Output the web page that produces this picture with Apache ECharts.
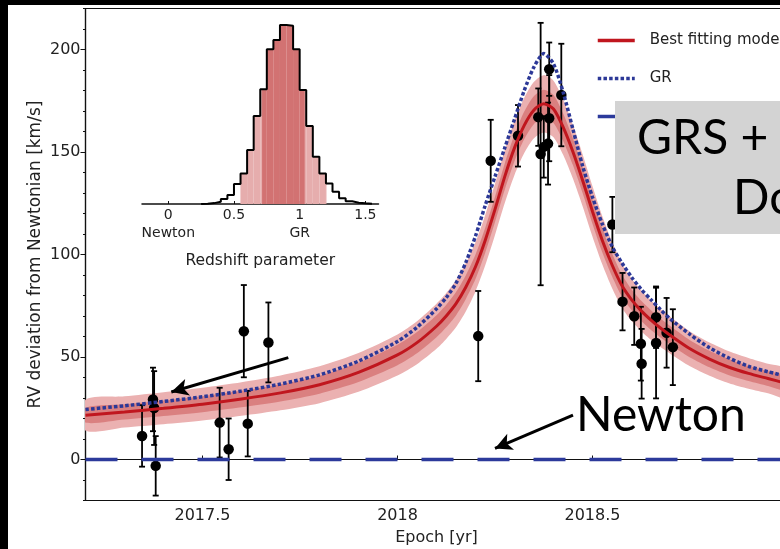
<!DOCTYPE html>
<html><head><meta charset="utf-8">
<script src="https://cdn.jsdelivr.net/npm/echarts@6/dist/echarts.min.js"></script>
<style>html,body{margin:0;padding:0;background:#fff}#c{width:780px;height:549px}</style>
</head><body><div id="c"></div>
<script>
// ---- model curves (epoch in yr, RV deviation in km/s) ----
const curveEpochs = [2017.2,2017.3,2017.4,2017.5,2017.6,2017.7,2017.8,2017.9,2018.0,2018.05,2018.1,2018.125,2018.15,2018.175,2018.2,2018.225,2018.25,2018.275,2018.3,2018.325,2018.35,2018.375,2018.4,2018.425,2018.45,2018.475,2018.5,2018.525,2018.55,2018.575,2018.6,2018.625,2018.65,2018.675,2018.7,2018.75,2018.8,2018.85,2018.9,2018.95,2019.0];
const bestFit   = [21.6,23.2,25.0,27.0,29.5,32.5,36.5,42.5,51,57,65,70,76,84,94,107,122,138,152,163,170.5,173.5,171,162,150,136,121,107,95,85,78,72.5,68,64,60.5,54,49,45,42,39.5,37];
const grCurve   = [24.4,26.2,28.3,30.6,33.4,36.8,41.3,48,57.6,64.5,73.5,79,86,96,109,124,138,152,166,180,191.5,198,193,179,161,143,128,115,104,96,89,83,78,73,68.5,61,54.5,49.5,45.5,42.8,40.5];
const outerHalf = [7.5,7.6,7.8,8,8.2,8.5,9,9.5,10,10.5,11,11.2,11.5,11.8,12,12.3,12.5,12.9,13.2,13.5,13.8,14,13.8,13.5,13.1,12.7,12.3,11.8,11.3,10.8,10.3,9.9,9.6,9.3,9,8.5,8.1,7.8,7.5,7.2,7];
const innerHalf = [3.6,3.7,3.8,3.9,4,4.2,4.4,4.7,5,5.2,5.4,5.5,5.7,5.8,6,6.1,6.2,6.4,6.5,6.7,6.8,6.9,6.8,6.7,6.5,6.3,6.1,5.9,5.6,5.4,5.1,4.9,4.8,4.6,4.5,4.2,4,3.9,3.7,3.6,3.5];
const newtonLevel = 0;

// ---- observations ----
const obsEpoch = [2017.345,2017.373,2017.376,2017.380,2017.544,2017.567,2017.606,2017.616,2017.669,2018.207,2018.239,2018.309,2018.361,2018.367,2018.375,2018.386,2018.389,2018.389,2018.420,2018.551,2018.577,2018.607,2018.624,2018.626,2018.663,2018.663,2018.690,2018.706];
const obsRV    = [11.5,29.3,25.1,-3.1,18,5,62.6,17.5,57.1,60.2,145.7,157.9,167,149,152.5,154.1,166.5,190.4,177.8,114.6,77,69.9,56.5,46.7,69.4,56.8,61.8,54.8];
const obsErr   = [15,15.5,18,14.5,17,15,22.5,16,19.5,22,20,15,14,64,15,20,21,13,25,13.5,14,14,18,17,15,27,17,18.5];

// ---- axes ----
const xRange = [2017.2, 2019.0];
const yRange = [-20, 220];
const xTicks = [2017.5, 2018, 2018.5];
const yTicks = [0, 50, 100, 150, 200];

// ---- inset histogram ----
const histBinLeft = [0.25,0.30,0.35,0.40,0.45,0.50,0.55,0.60,0.65,0.70,0.75,0.80,0.85,0.90,0.95,1.00,1.05,1.10,1.15,1.20,1.25,1.30,1.35,1.40,1.45,1.50];
const histCounts  = [2,5,13,28,50,112,171,302,492,641,864,916,1000,996,864,637,436,264,171,115,69,32,15,7,4,2];
const histBinWidth = 0.05;
const histRange = [-0.2, 1.6];
const histTicks = [0, 0.5, 1, 1.5];
const histTickNames = {0: 'Newton', 1: 'GR'};
const shadeWide = [0.548, 1.204];
const shadeNarrow = [0.714, 1.038];

// ---- annotations (data coords) ----
const arrowGR = [[2017.72, 49.7], [2017.42, 32.9]];
const arrowNewton = [[2018.45, 21.6], [2018.25, 5.4]];

const FONT = 'DejaVu Sans';
const pair = (xs, ys) => xs.map((x, i) => [x, ys[i]]);

const histOutline = [[histBinLeft[0], 0]];
histBinLeft.forEach((l, i) => histOutline.push([l, histCounts[i]]));
histOutline.push([histBinLeft[histBinLeft.length - 1] + histBinWidth, histCounts[histCounts.length - 1]]);
histOutline.push([histBinLeft[histBinLeft.length - 1] + histBinWidth, 0]);

const TRANSPARENT = 'rgba(0,0,0,0)';
const chart = echarts.init(document.getElementById('c'), null, {renderer: 'canvas'});
chart.setOption({
  animation: false,
  backgroundColor: '#fff',
  textStyle: {fontFamily: FONT},
  grid: [
    {left: 85.5, top: 8.5, width: 702, height: 492, show: true, borderColor: '#111', borderWidth: 1.2, backgroundColor: 'transparent', containLabel: false, outerBoundsMode: 'none'},
    {left: 142, top: 25, width: 236.5, height: 179, containLabel: false, outerBoundsMode: 'none'}
  ],
  legend: {
    orient: 'vertical', left: 596, top: 33, padding: 0, itemWidth: 37, itemHeight: 14, itemGap: 23,
    data: ['Best fitting model', 'GR', 'Newton'],
    lineStyle: {width: 3.5},
    textStyle: {fontFamily: FONT, fontSize: 15, color: '#222', padding: [0, 0, 0, 10]},
    selectedMode: false
  },
  xAxis: [
    {type: 'value', gridIndex: 0, min: xRange[0], max: xRange[1],
     axisLine: {lineStyle: {color: '#111', width: 1.2}},
     axisTick: {inside: true, length: 4, customValues: xTicks, lineStyle: {color: '#111'}},
     axisLabel: {customValues: xTicks, margin: 7, color: '#222', fontSize: 16, fontFamily: FONT, formatter: v => String(v)},
     splitLine: {show: false},
     name: 'Epoch [yr]', nameLocation: 'middle', nameGap: 29, nameTextStyle: {fontSize: 16, color: '#222', fontFamily: FONT}},
    {type: 'value', gridIndex: 1, min: histRange[0], max: histRange[1],
     axisLine: {lineStyle: {color: '#111', width: 1.5}},
     axisTick: {inside: true, length: 3, customValues: histTicks, lineStyle: {color: '#111'}},
     axisLabel: {customValues: histTicks, margin: 2, color: '#222', fontSize: 14, lineHeight: 18, fontFamily: FONT,
       formatter: v => histTickNames[v] ? String(v) + '\n' + histTickNames[v] : String(v)},
     splitLine: {show: false},
     name: 'Redshift parameter', nameLocation: 'middle', nameGap: 49, nameTextStyle: {fontSize: 15.5, color: '#222', fontFamily: FONT}}
  ],
  yAxis: [
    {type: 'value', gridIndex: 0, min: yRange[0], max: yRange[1], interval: 10,
     axisLine: {show: true, lineStyle: {color: '#111', width: 1.2}},
     axisTick: {length: 2.5, lineStyle: {color: '#111'}},
     axisLabel: {show: false}, splitLine: {show: false},
     name: 'RV deviation from Newtonian [km/s]', nameLocation: 'middle', nameGap: 41, nameRotate: 90,
     nameTextStyle: {fontSize: 17, color: '#222', fontFamily: FONT}},
    {type: 'value', gridIndex: 0, min: yRange[0], max: yRange[1], position: 'left',
     axisLine: {show: false},
     axisTick: {length: 5, customValues: yTicks, lineStyle: {color: '#111'}},
     axisLabel: {customValues: yTicks, margin: 5, color: '#222', fontSize: 16, fontFamily: FONT},
     splitLine: {show: false}},
    {type: 'value', gridIndex: 1, min: 0, max: 1000, show: false}
  ],
  series: [
    {type: 'custom', xAxisIndex: 0, yAxisIndex: 0, silent: true, clip: true,
     data: [[curveEpochs[0], bestFit[0]]], encode: {x: 0, y: 1},
     renderItem: (params, api) => {
       const band = (half) => {
         const up = curveEpochs.map((x, i) => api.coord([x, bestFit[i] + half[i]]));
         const lo = curveEpochs.map((x, i) => api.coord([x, bestFit[i] - half[i]])).reverse();
         return up.concat(lo);
       };
       return {type: 'group', children: [
         {type: 'polygon', shape: {points: band(outerHalf), smooth: 0.25}, style: {fill: '#ebb1b1'}},
         {type: 'polygon', shape: {points: band(innerHalf), smooth: 0.25}, style: {fill: '#da8080'}}
       ]};
     }},
    {name: 'Best fitting model', type: 'line', xAxisIndex: 0, yAxisIndex: 0, symbol: 'none', smooth: 0.25,
     data: pair(curveEpochs, bestFit), lineStyle: {color: '#c0161e', width: 3}, itemStyle: {color: TRANSPARENT}},
    {name: 'GR', type: 'line', xAxisIndex: 0, yAxisIndex: 0, symbol: 'none', smooth: 0.25,
     data: pair(curveEpochs, grCurve), lineStyle: {color: '#2c3897', width: 3.5, type: [3.5, 2.2], cap: 'butt'}, itemStyle: {color: TRANSPARENT}},
    {name: 'Newton', type: 'line', xAxisIndex: 0, yAxisIndex: 0, symbol: 'none',
     data: [[xRange[0], newtonLevel], [xRange[1], newtonLevel]],
     lineStyle: {color: '#2c3a9b', width: 3.5, type: [32, 24], cap: 'butt'}, itemStyle: {color: TRANSPARENT},
     markLine: {silent: true, symbol: ['none', 'arrow'], symbolSize: [13, 17], label: {show: false},
       lineStyle: {color: '#000', width: 3, type: 'solid'}, itemStyle: {color: '#000'},
       data: [
         [{coord: arrowGR[0]}, {coord: arrowGR[1]}],
         [{coord: arrowNewton[0]}, {coord: arrowNewton[1]}]
       ]}},
    {type: 'custom', xAxisIndex: 0, yAxisIndex: 0, silent: true,
     data: obsEpoch.map((x, i) => [x, obsRV[i], obsErr[i]]),
     encode: {x: 0, y: 1},
     renderItem: (params, api) => {
       const x = api.value(0), y = api.value(1), e = api.value(2);
       const hi = api.coord([x, y + e]), lo = api.coord([x, y - e]);
       const c = 3, st = {stroke: '#000', lineWidth: 1.8};
       return {type: 'group', children: [
         {type: 'line', shape: {x1: hi[0], y1: hi[1], x2: lo[0], y2: lo[1]}, style: st},
         {type: 'line', shape: {x1: hi[0] - c, y1: hi[1], x2: hi[0] + c, y2: hi[1]}, style: st},
         {type: 'line', shape: {x1: lo[0] - c, y1: lo[1], x2: lo[0] + c, y2: lo[1]}, style: st}
       ]};
     }},
    {type: 'scatter', xAxisIndex: 0, yAxisIndex: 0, silent: true, symbol: 'circle', symbolSize: 10.5,
     data: obsEpoch.map((x, i) => [x, obsRV[i]]), itemStyle: {color: '#000', opacity: 1}},
    {type: 'custom', xAxisIndex: 1, yAxisIndex: 2, silent: true,
     data: histBinLeft.map((l, i) => [l, histCounts[i]]),
     encode: {x: 0, y: 1},
     renderItem: (params, api) => {
       const l = api.value(0), c = api.value(1), r = l + histBinWidth;
       const kids = [];
       [[shadeWide, '#e6adad'], [shadeNarrow, '#d27272']].forEach(([rg, col]) => {
         const a = Math.max(l, rg[0]), b = Math.min(r, rg[1]);
         if (b > a) {
           const p1 = api.coord([a, c]), p2 = api.coord([b, 0]);
           kids.push({type: 'rect', shape: {x: p1[0], y: p1[1], width: p2[0] - p1[0], height: p2[1] - p1[1]}, style: {fill: col}});
         }
       });
       return {type: 'group', children: kids};
     }},
    {type: 'line', xAxisIndex: 1, yAxisIndex: 2, silent: true, symbol: 'none', step: 'end',
     data: histOutline, lineStyle: {color: '#000', width: 2}}
  ],
  graphic: [
    {type: 'rect', z: 100, shape: {x: 0, y: 0, width: 780, height: 5}, style: {fill: '#000'}},
    {type: 'rect', z: 100, shape: {x: 0, y: 0, width: 8, height: 549}, style: {fill: '#000'}},
    {type: 'rect', z: 100, shape: {x: 615, y: 101, width: 200, height: 133}, style: {fill: '#d3d3d3'}},
    {type: 'text', z: 101, x: 637, y: 139, style: {text: 'GRS +', fontFamily: 'Lato', fontSize: 48, fill: '#000', verticalAlign: 'middle'}},
    {type: 'text', z: 101, x: 733, y: 199, style: {text: 'Doppler', fontFamily: 'Lato', fontSize: 48, fill: '#000', verticalAlign: 'middle'}},
    {type: 'text', z: 101, x: 576, y: 416, style: {text: 'Newton', fontFamily: 'Lato', fontSize: 48, fill: '#000', verticalAlign: 'middle'}}
  ]
});
</script></body></html>
